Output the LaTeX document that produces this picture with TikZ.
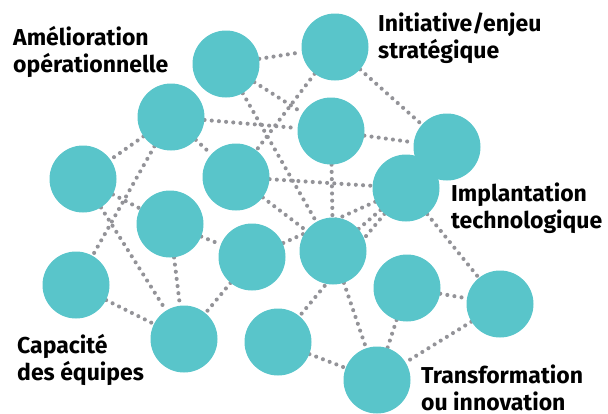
\documentclass[tikz,border=0pt]{standalone}
\usepackage{fontspec}
\setmainfont{Fira Sans}
\usetikzlibrary{backgrounds}
\definecolor{hubteal}{RGB}{89,197,202}
\definecolor{dotgray}{RGB}{147,147,152}
\tikzset{
  hub/.style={circle, fill=hubteal, minimum size=67pt, inner sep=0pt}, % the round blobs
  link/.style={draw=dotgray, line width=4.1pt, line cap=round, dash pattern=on 0pt off 7.2pt}, % dotted links
  caption/.style={font=\bfseries\fontsize{23}{26.5}\selectfont, align=left, anchor=base west, inner sep=0pt}, % the labels, placed at their last line
}

\begin{document}
\begin{tikzpicture}[x=1pt, y=-1pt]
    \useasboundingbox (0,0) rectangle (608,413);

    \node[hub] (N_01) at (226,64) {};
    \node[hub] (N_02) at (335,47) {};
    \node[hub] (N_03) at (171,117) {};
    \node[hub] (N_04) at (331,131) {};
    \node[hub] (N_05) at (447,147) {};
    \node[hub] (N_06) at (83,179) {};
    \node[hub] (N_07) at (236,177) {};
    \node[hub] (N_08) at (406,188) {};
    \node[hub] (N_09) at (170,224) {};
    \node[hub] (N_10) at (252,257) {};
    \node[hub] (N_11) at (333,251) {};
    \node[hub] (N_12) at (76,285) {};
    \node[hub] (N_13) at (407,288) {};
    \node[hub] (N_14) at (500,304) {};
    \node[hub] (N_15) at (184,339) {};
    \node[hub] (N_16) at (278,342) {};
    \node[hub] (N_17) at (377,380) {};

    \begin{pgfonlayer}{background}
    \draw[link] (N_01) edge (N_02)
          (N_01) edge (N_04)
          (N_01) edge (N_11)

          (N_02) edge (N_07)
          (N_02) edge (N_05)

          (N_03) edge (N_04)
          (N_03) edge (N_06)
          (N_03) edge (N_12)
          (N_03) edge (N_07)

          (N_04) edge (N_05)
          (N_04) edge (N_11)

          (N_06) edge (N_09)
          (N_06) edge (N_15)

          (N_07) edge (N_08)
          (N_07) edge (N_11)

          (N_08) edge (N_10)
          (N_08) edge (N_11)
          (N_08) edge (N_16)
          (N_08) edge (N_14)

          (N_09) edge (N_10)
          (N_09) edge (N_15)
          (N_10) edge (N_15)
          (N_12) edge (N_15)

          (N_11) edge (N_17)
          (N_13) edge (N_14)
          (N_13) edge (N_17)
          (N_14) edge (N_17)
          (N_16) edge (N_17)
          ;
    \end{pgfonlayer}

    \node[caption] (OPERATIONS) at (13,72) {Amélioration\\opérationnelle};
    \node[caption] (STRATEGY) at (378,58) {Initiative/enjeu\\stratégique};
    \node[caption] (TECHNOLOGY) at (451,228) {Implantation\\technologique};
    \node[caption] (TEAMS) at (17,380) {Capacité\\des équipes};
    \node[caption] (INNOVATION) at (421,410) {Transformation\\ou innovation};
\end{tikzpicture}
\end{document}
